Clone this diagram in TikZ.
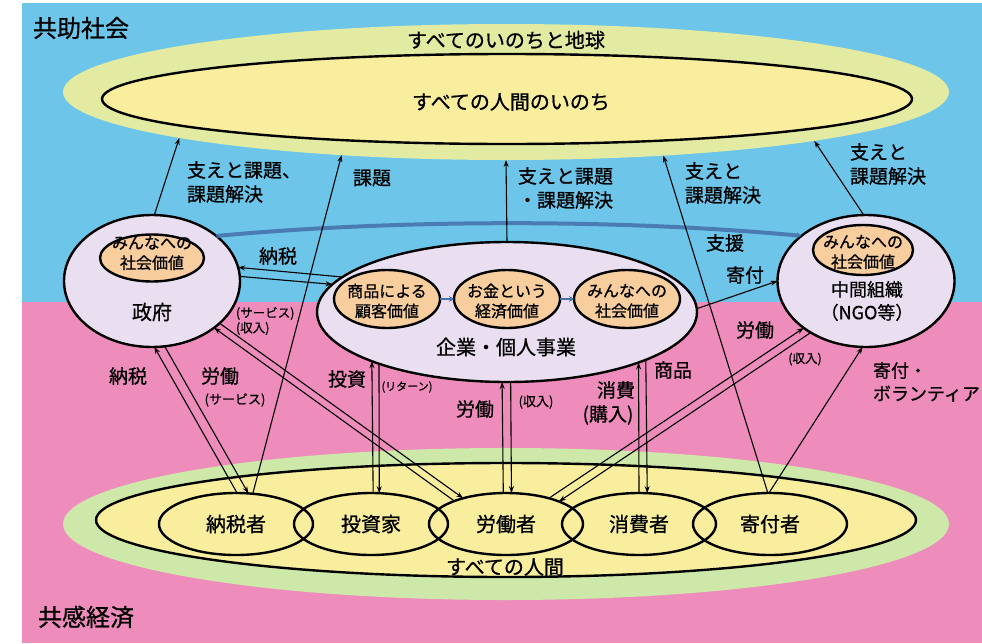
\documentclass[tikz,border=0pt]{standalone}
\usepackage{fontspec}
\setmainfont{Noto Sans CJK JP}[FakeBold=0.8]
\usetikzlibrary{shapes.geometric,arrows.meta,calc}
\definecolor{skyb}{HTML}{6DC6EA}
\definecolor{pinkb}{HTML}{EE8DBB}
\definecolor{ringT}{HTML}{E3EBA2}
\definecolor{ringB}{HTML}{CDE8A8}
\definecolor{yel}{HTML}{F8EE9E}
\definecolor{lav}{HTML}{E9DFF0}
\definecolor{ora}{HTML}{F8CE9E}
\definecolor{arcb}{HTML}{4470A8}
\begin{document}
\begin{tikzpicture}[x=1pt,y=-1pt,
  every node/.style={inner sep=0pt,outer sep=0pt},
  ell/.style={ellipse,draw=black,line width=2.4pt},
  ring/.style={ellipse,draw=none},
  t24/.style={font=\fontsize{24}{28}\selectfont},
  t20/.style={font=\fontsize{20}{23}\selectfont},
  t19/.style={font=\fontsize{19}{24}\selectfont},
  t18/.style={font=\fontsize{18}{23}\selectfont},
  t16/.style={font=\fontsize{16}{20}\selectfont},
  t13/.style={font=\fontsize{13}{15}\selectfont},
  t12/.style={font=\fontsize{12.5}{15}\selectfont},
  t11/.style={font=\fontsize{11}{13}\selectfont},
  arr/.style={-{Stealth[length=7pt,width=5pt]},line width=1.1pt},
  barr/.style={-{Stealth[length=5pt,width=6pt]},line width=2.2pt,draw=arcb!80},
]
\useasboundingbox (0,0) rectangle (982,643);
\fill[white] (0,0) rectangle (982,643);
\fill[skyb] (22,3) rectangle (982,302);
\fill[pinkb] (22,302) rectangle (982,643);

% top ellipses
\node[ring,fill=ringT,minimum width=886pt,minimum height=136pt] (topOuter) at (506,92) {};
\node[ell,fill=yel,minimum width=810pt,minimum height=90pt] (topInner) at (507,99) {};
% bottom ellipses
\node[ring,fill=ringB,minimum width=886pt,minimum height=152pt] (botOuter) at (506,524) {};
\node[ell,fill=yel,minimum width=820pt,minimum height=114pt] (botInner) at (506,520) {};
\foreach \n/\x/\t in {p1/236/納税者,p2/371/投資家,p3/506/労働者,p4/639/消費者,p5/770/寄付者}{
  \node[ell,minimum width=154pt,minimum height=62pt,t20] (\n) at (\x,524) {\t};
}

% middle ellipses
\node[ell,fill=lav,minimum width=176pt,minimum height=132pt] (seifu) at (152,281) {};
\node[ell,fill=ora,minimum width=104pt,minimum height=47pt] (seifuV) at (152,258) {};
\node[ell,fill=lav,minimum width=380pt,minimum height=140pt] (kigyo) at (507,312) {};
\node[ell,fill=ora,minimum width=106pt,minimum height=58pt] (k1) at (387,299) {};
\node[ell,fill=ora,minimum width=106pt,minimum height=58pt] (k2) at (507,299) {};
\node[ell,fill=ora,minimum width=106pt,minimum height=58pt] (k3) at (627,299) {};
\node[ell,fill=lav,minimum width=177pt,minimum height=132pt] (ngo) at (866,281) {};
\node[ell,fill=ora,minimum width=100pt,minimum height=50pt] (ngoV) at (863,250) {};

% blue arcs
\draw[barr,line width=4pt,draw=arcb,opacity=0.85] (seifu.35) .. controls (400,219) and (620,219) .. (ngo.145);
\draw[barr,draw=arcb] (k1.east) -- (k2.west);
\draw[barr,draw=arcb] (k2.east) -- (k3.west);

% upward arrows to the top
\draw[arr] (seifu.88) -- (topOuter.188.9);
\draw[arr] (p1.61) -- (topOuter.201.5);
\draw[arr] (kigyo.north) -- (topOuter.south);
\draw[arr] (p5.94) -- (topOuter.338.5);
\draw[arr] (ngo.92.6) -- (topOuter.351.4);

% middle connectors
\draw[arr] (kigyo.168.6) -- (seifu.9);
\draw[arr] (seifu.3) -- (kigyo.171.7);
\draw[arr] (p3.156.8) -- (seifu.323.4);
\draw[arr] (seifu.328.8) -- (p3.149.6);
\draw[arr] (p1.88.2) -- (seifu.272.6);
\draw[arr] (seifu.281.3) -- (p1.68.6);
\draw[arr] (p2.86.3) -- (kigyo.200.3);
\draw[arr] (kigyo.202) -- (p2.75.4);
\draw[arr] (p3.95.5) -- (kigyo.266.7);
\draw[arr] (kigyo.273.3) -- (p3.80.8);
\draw[arr] (p4.90) -- (kigyo.339.1);
\draw[arr] (kigyo.341.3) -- (p4.75.4);
\draw[arr] (kigyo.1) -- (ngo.180);
\draw[arr] (p3.31.5) -- (ngo.217.9);
\draw[arr] (ngo.223.9) -- (p3.23.2);
\draw[arr] (p5.92) -- (ngo.267.4);

% texts
\node[t24] (lblA) at (81,28) {共助社会};
\node[t24] (lblB) at (86,617) {共感経済};
\node[t20] (lblC) at (506,40) {すべてのいのちと地球};
\node[t20] (lblD) at (511,102) {すべての人間のいのち};
\node[t20] (lblE) at (505,567) {すべての人間};

\node[t16,align=center] (tsV) at (152,253) {みんなへの\\社会価値};
\node[t20] (tseifu) at (152,312) {政府};
\node[t16,align=center] (tk1) at (387,301) {商品による\\顧客価値};
\node[t16,align=center] (tk2) at (507,301) {お金という\\経済価値};
\node[t16,align=center] (tk3) at (627,301) {みんなへの\\社会価値};
\node[t20] (tkigyo) at (506,347) {企業・個人事業};
\node[t16,align=center] (tnV) at (863,252) {みんなへの\\社会価値};
\node[t18,align=center] (tngo) at (867,301) {中間組織\\（NGO等）};

\node[t19,align=left,anchor=west] (l1) at (187,182) {支えと課題、\\課題解決};
\node[t19,anchor=west] (l2) at (353,178) {課題};
\node[t19,align=left,anchor=west] (l3) at (518,188) {支えと課題\\・課題解決};
\node[t19,align=left,anchor=west] (l4) at (685,183) {支えと\\課題解決};
\node[t19,align=left,anchor=west] (l5) at (850,164) {支えと\\課題解決};

\node[t19] (l6) at (278,256) {納税};
\node[t12,align=left,anchor=west] (l7) at (236,321) {(サービス)\\(収入)};
\node[t19] (l8) at (128,376) {納税};
\node[t19] (l9) at (220,376) {労働};
\node[t13] (l10) at (235,400) {(サービス)};
\node[t19] (l11) at (347,379) {投資};
\node[t11] (l12) at (407,387) {(リターン)};
\node[t19] (l13) at (475,409) {労働};
\node[t13] (l14) at (536,402) {(収入)};
\node[t19] (l15) at (616,390) {消費};
\node[t19] (l16) at (608,415) {(購入)};
\node[t19] (l17) at (673,370) {商品};
\node[t19] (l18) at (725,243) {支援};
\node[t19] (l19) at (745,275) {寄付};
\node[t19] (l20) at (755,330) {労働};
\node[t12] (l21) at (805,359) {(収入)};
\node[t18,align=left,anchor=west] (l22) at (873,382) {寄付・\\ボランティア};
\end{tikzpicture}
\end{document}
